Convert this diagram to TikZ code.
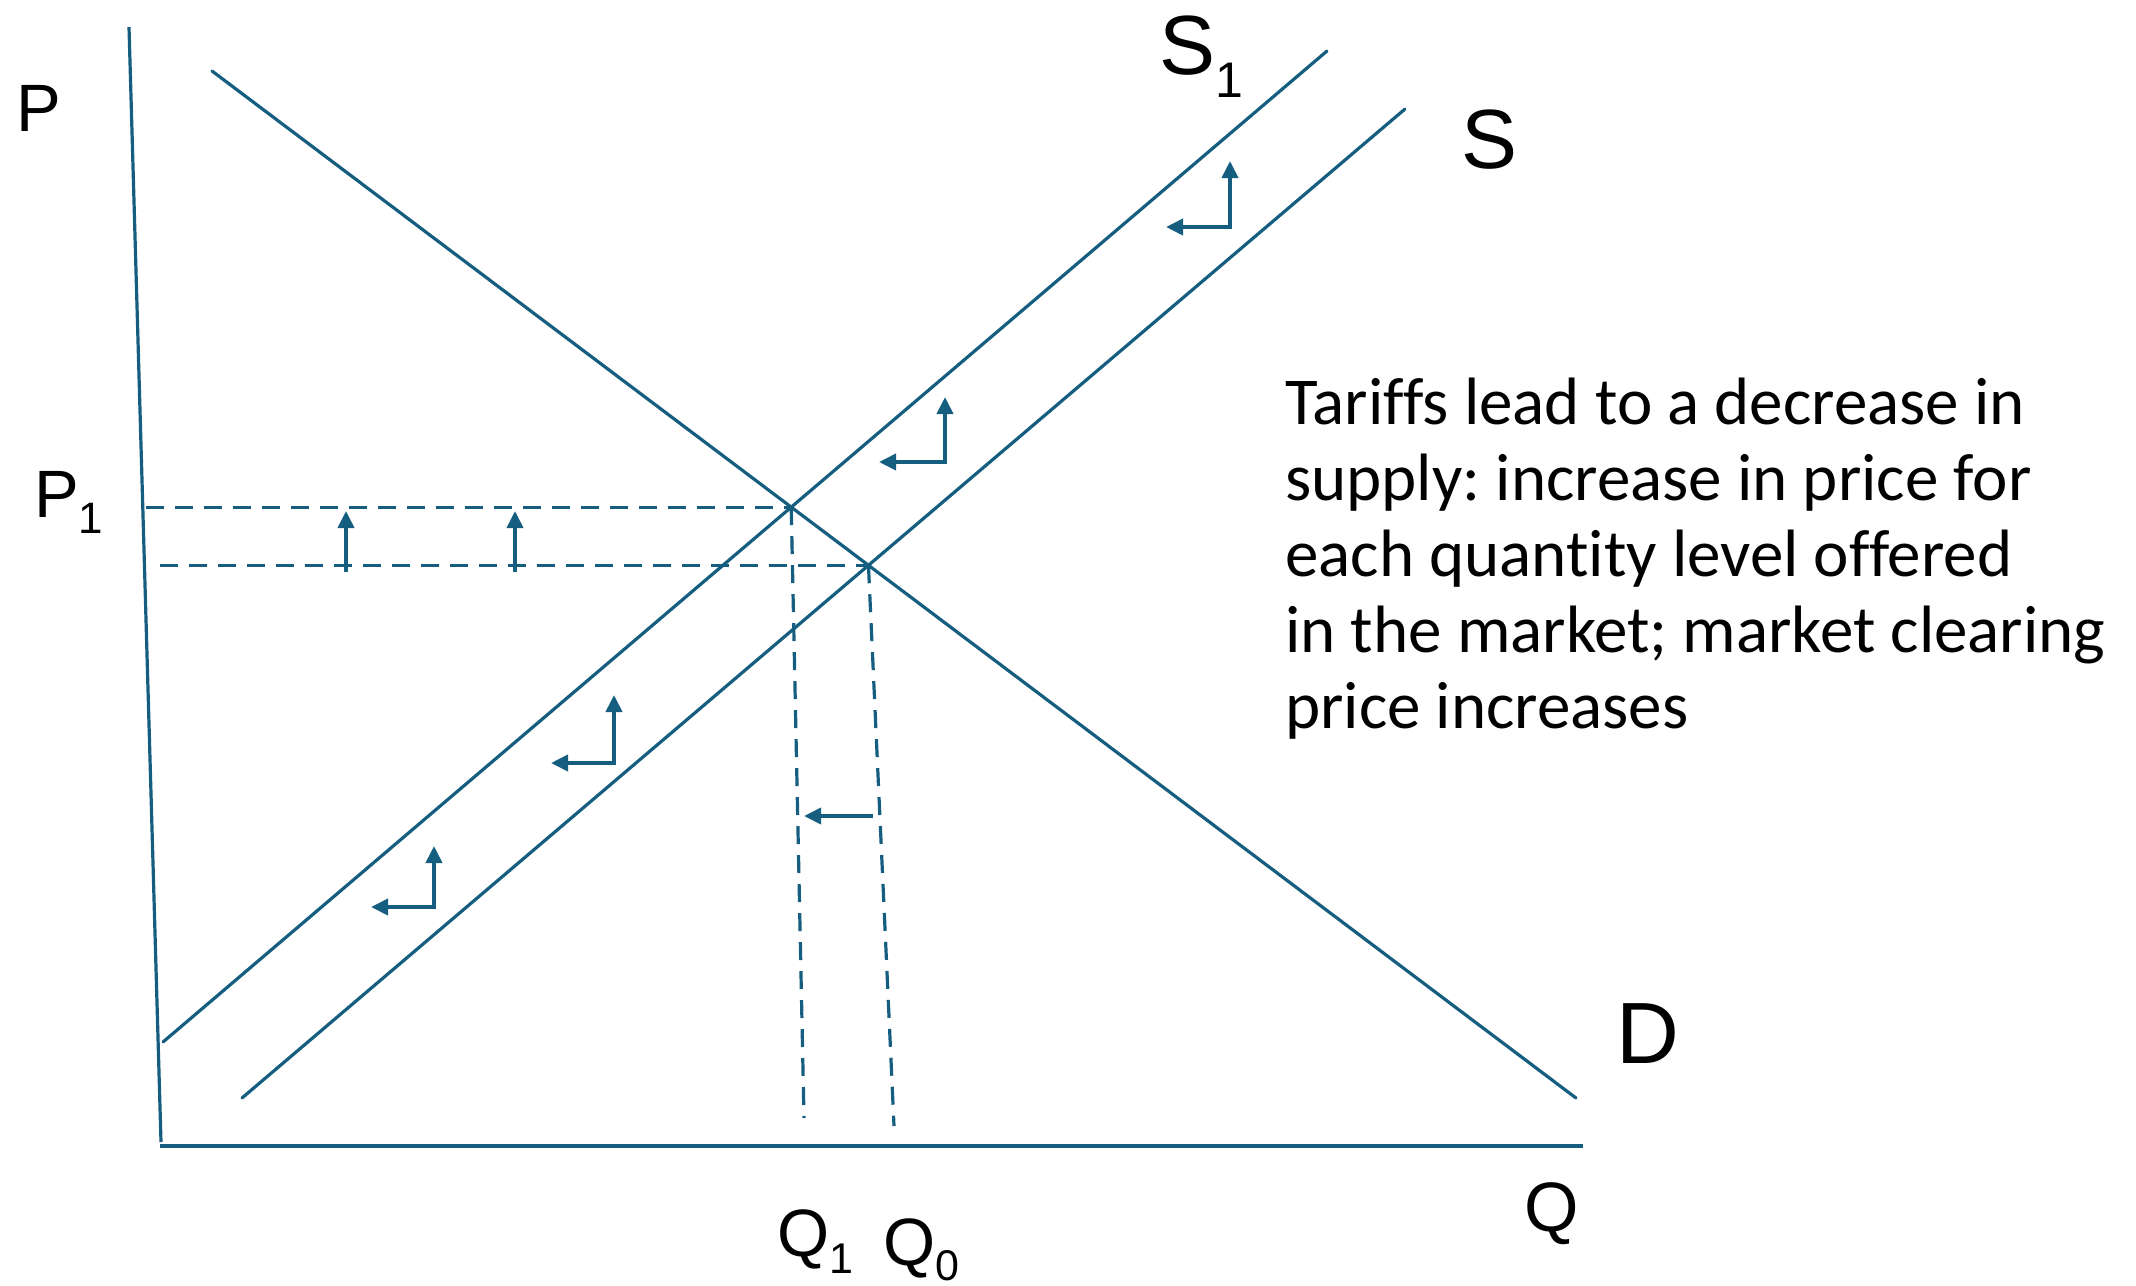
\documentclass[tikz,border=0pt]{standalone}
\usepackage{fontspec}
\setmainfont{Liberation Sans}
\newfontfamily\txtfont[Ligatures=NoCommon]{Carlito}
\usetikzlibrary{arrows.meta}
\definecolor{curve}{RGB}{22,94,128}
\newcommand{\fsz}[1]{\fontsize{#1}{#1}\selectfont}
\tikzset{
  curveline/.style={draw=curve, line width=3.2pt, line cap=round},
  axisline/.style={draw=curve, line width=3.2pt},
  guide/.style={draw=curve, line width=3.2pt, dash pattern=on 18pt off 11pt},
  shiftarrow/.style={draw=curve, line width=3.8pt, {Triangle[length=17pt,width=16pt]}-{Triangle[length=17pt,width=16pt]}},
  onearrow/.style={draw=curve, line width=3.8pt, -{Triangle[length=17pt,width=16pt]}},
  lbl/.style={anchor=base west, inner sep=0pt, text=black}
}
\begin{document}
\begin{tikzpicture}[x=1pt,y=-1pt]
\useasboundingbox (0,0) rectangle (2136,1285);
% axes
\coordinate (ptop) at (129,27);
\coordinate (pbot) at (161,1142);
\coordinate (qleft) at (160,1146);
\coordinate (qright) at (1583,1146);
\draw[axisline] (ptop) -- (pbot);
\draw[axisline] (qleft) -- (qright);
% curves
\coordinate (d1) at (212,71);
\coordinate (d2) at (1576,1098);
\coordinate (sa1) at (163,1042);
\coordinate (sa2) at (1327,51);
\coordinate (sb1) at (242,1098);
\coordinate (sb2) at (1405,109);
\draw[curveline] (d1) -- (d2);
\draw[curveline] (sa1) -- (sa2);
\draw[curveline] (sb1) -- (sb2);
\coordinate (E1) at (intersection of d1--d2 and sa1--sa2);
\coordinate (E0) at (intersection of d1--d2 and sb1--sb2);
% guides
\coordinate (hu) at (146,0);
\coordinate (hl) at (160,0);
\coordinate (v1) at (804,1118);
\coordinate (v0) at (894,1126);
\draw[guide] (hu |- E1) -- (E1);
\draw[guide] (hl |- E0) -- (E0);
\draw[guide] (E1) -- (v1);
\draw[guide] (E0) -- (v0);
% price shift arrows
\coordinate (pa1) at (346,572);
\coordinate (pa1t) at (346,511);
\coordinate (pa2) at (515,572);
\coordinate (pa2t) at (515,511);
\draw[onearrow] (pa1) -- (pa1t);
\draw[onearrow] (pa2) -- (pa2t);
% quantity shift arrow
\coordinate (qa) at (873,816);
\coordinate (qat) at (804,816);
\draw[onearrow] (qa) -- (qat);
% L-shaped arrows
\coordinate (la) at (434,907);
\draw[shiftarrow] (371,907) -- (la) -- (434,846);
\coordinate (lb) at (614,763);
\draw[shiftarrow] (551,763) -- (lb) -- (614,695);
\coordinate (lc) at (945,462);
\draw[shiftarrow] (879,462) -- (lc) -- (945,397);
\coordinate (ld) at (1230,227);
\draw[shiftarrow] (1166,227) -- (ld) -- (1230,161);
% labels
\node[lbl] (P) at (16,131) {\fsz{67}P};
\node[lbl] (P1) at (34,517) {\fsz{67}P\raisebox{-16pt}{\fsz{44}1}};
\node[lbl] (S1) at (1159,74) {\fsz{84}S\raisebox{-23pt}{\fsz{50}1}};
\node[lbl] (S) at (1461,168) {\fsz{84}S};
\node[lbl] (D) at (1616,1063) {\fsz{87}D};
\node[lbl] (Q) at (1524,1231) {\fsz{70}Q};
\node[lbl] (Q1) at (777,1256) {\fsz{67}Q\raisebox{-17pt}{\fsz{43}1}};
\node[lbl] (Q0) at (883,1265) {\fsz{67}Q\raisebox{-15pt}{\fsz{43}0}};
\node[lbl, align=left, font=\txtfont\fontsize{67}{76}\selectfont\frenchspacing] (note) at (1285,728) {Tariffs lead to a decrease in\\
supply: increase in price for\\
each quantity level offered\\
in the market; market clearing\\
price increases};
\end{tikzpicture}
\end{document}
